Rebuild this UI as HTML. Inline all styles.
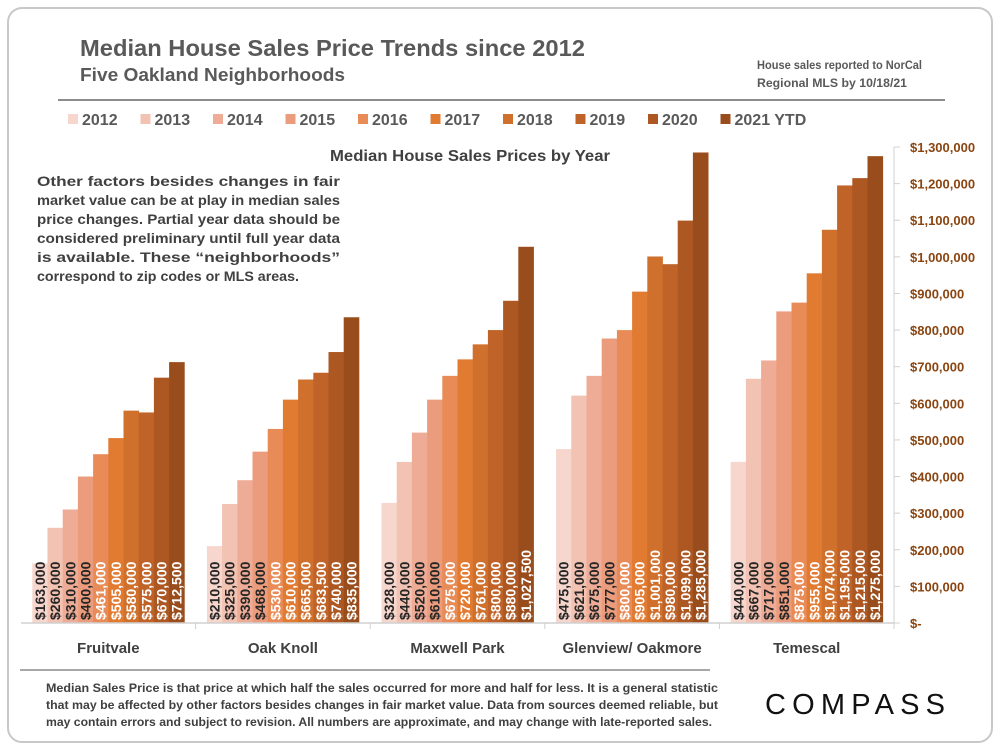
<!DOCTYPE html>
<html><head><meta charset="utf-8"><style>
body{margin:0;background:#fff;}
svg text{font-family:"Liberation Sans",sans-serif;font-weight:bold;}
</style></head><body>
<svg id="chart" width="1000" height="750" xmlns="http://www.w3.org/2000/svg">
<rect x="8" y="8" width="984" height="734" rx="14" fill="#fff" stroke="#c8c8c8" stroke-width="2"/>
<text x="80" y="56" font-size="23" fill="#595959" textLength="505" lengthAdjust="spacingAndGlyphs">Median House Sales Price Trends since 2012</text>
<text x="80" y="81" font-size="18" fill="#595959" textLength="265" lengthAdjust="spacingAndGlyphs">Five Oakland Neighborhoods</text>
<text font-size="12" fill="#595959"><tspan x="757" y="69" textLength="165" lengthAdjust="spacingAndGlyphs">House sales reported to NorCal</tspan><tspan x="757" y="87" textLength="150" lengthAdjust="spacingAndGlyphs">Regional MLS by 10/18/21</tspan></text>
<line x1="58" y1="100" x2="945" y2="100" stroke="#8c8c8c" stroke-width="2"/>
<g id="legend"></g>
<text x="470" y="161" font-size="16" fill="#404040" text-anchor="middle" textLength="280" lengthAdjust="spacingAndGlyphs">Median House Sales Prices by Year</text>
<g font-size="14" fill="#404040">
<text x="37" y="186" textLength="303" lengthAdjust="spacingAndGlyphs">Other factors besides changes in fair</text>
<text x="37" y="205" textLength="303" lengthAdjust="spacingAndGlyphs">market value can be at play in median sales</text>
<text x="37" y="224" textLength="303" lengthAdjust="spacingAndGlyphs">price changes. Partial year data should be</text>
<text x="37" y="243" textLength="303" lengthAdjust="spacingAndGlyphs">considered preliminary until full year data</text>
<text x="37" y="262" textLength="303" lengthAdjust="spacingAndGlyphs">is available. These “neighborhoods”</text>
<text x="37" y="281" textLength="262" lengthAdjust="spacingAndGlyphs">correspond to zip codes or MLS areas.</text>
</g>
<g id="plot"></g>
<line x1="20" y1="670" x2="710" y2="670" stroke="#8c8c8c" stroke-width="1.5"/>
<g font-size="12" fill="#404040">
<text x="46" y="692" textLength="672" lengthAdjust="spacingAndGlyphs">Median Sales Price is that price at which half the sales occurred for more and half for less. It is a general statistic</text>
<text x="46" y="709" textLength="672" lengthAdjust="spacingAndGlyphs">that may be affected by other factors besides changes in fair market value. Data from sources deemed reliable, but</text>
<text x="46" y="726" textLength="666" lengthAdjust="spacingAndGlyphs">may contain errors and subject to revision.  All numbers are approximate, and may change with late-reported sales.</text>
</g>
<text x="765" y="714" font-size="29" fill="#111" style="font-weight:normal" textLength="180" lengthAdjust="spacing">COMPASS</text>
</svg>
<script>
const categories=["Fruitvale","Oak Knoll","Maxwell Park","Glenview/ Oakmore","Temescal"];
const years=["2012","2013","2014","2015","2016","2017","2018","2019","2020","2021 YTD"];
const fruitvale=[163000,260000,310000,400000,461000,505000,580000,575000,670000,712500];
const oakKnoll=[210000,325000,390000,468000,530000,610000,665000,683500,740000,835000];
const maxwellPark=[328000,440000,520000,610000,675000,720000,761000,800000,880000,1027500];
const glenview=[475000,621000,675000,777000,800000,905000,1001000,980000,1099000,1285000];
const temescal=[440000,667000,717000,851000,875000,955000,1074000,1195000,1215000,1275000];
const yTicks=[0,100000,200000,300000,400000,500000,600000,700000,800000,900000,1000000,1100000,1200000,1300000];
const series=[fruitvale,oakKnoll,maxwellPark,glenview,temescal];
const colors=["#f6d6cd","#f2c2b2","#eeac96","#eb9c7d","#e88b57","#e27b32","#d0702d","#c06328","#ad5722","#9a4d1c"];
const NS="http://www.w3.org/2000/svg";
const X0=21,X1=894,Y0=623,Y1=147,YMAX=1300000;
const y=v=>Y0-(v/YMAX)*(Y0-Y1);
const cw=(X1-X0)/categories.length;
const bw=15.2,padL=(cw-bw*years.length)/2;
const xb=(c,s)=>X0+c*cw+padL+s*bw;
function mk(tag,attrs,parent){const e=document.createElementNS(NS,tag);for(const k in attrs)e.setAttribute(k,attrs[k]);parent.appendChild(e);return e;}
const plot=document.getElementById('plot');
const fmt=v=>"$"+v.toLocaleString('en-US');
series.forEach((vals,c)=>{vals.forEach((v,s)=>{
 const r=mk('rect',{x:xb(c,s),y:y(v),width:bw+0.4,height:Y0-y(v),fill:colors[s]},plot);
 
 
 const tx=xb(c,s)+bw/2+5,ty=620;
 const t=mk('text',{x:tx,y:ty,transform:`rotate(-90 ${tx} ${ty})`,'font-size':14,fill:s>=4?'#fff':'#262626'},plot);
 
 
 t.textContent=fmt(v);
});
 const lx=X0+c*cw+cw/2;
 const cl=mk('text',{x:lx,y:653,'font-size':15,fill:'#404040','text-anchor':'middle'},plot);
 
 
 cl.textContent=categories[c];
 const tk=mk('line',{x1:X0+(c+1)*cw,y1:Y0,x2:X0+(c+1)*cw,y2:Y0+6,stroke:'#d0d0d0'},plot);
 
 
});
const xa=mk('line',{x1:X0,y1:Y0,x2:X1,y2:Y0,stroke:'#d0d0d0','stroke-width':1.5},plot);


const ya=mk('line',{x1:X1,y1:Y1,x2:X1,y2:Y0,stroke:'#d0d0d0'},plot);


yTicks.forEach(v=>{
 mk('line',{x1:X1,y1:y(v),x2:X1+6,y2:y(v),stroke:'#d0d0d0'},plot);
 const t=mk('text',{x:910,y:y(v)+5,'font-size':13,fill:'#8a4511'},plot);
 
 
 t.textContent=v===0?"$-":fmt(v);
});
const lg=document.getElementById('legend');
years.forEach((yr,i)=>{
 const bx=68+i*72.5;
 const g=mk('g',{},lg);
 
 
 mk('rect',{x:bx,y:114,width:10,height:10,fill:colors[i]},g);
 const t=mk('text',{x:bx+14,y:125,'font-size':16,fill:'#595959'},g);
 t.textContent=yr;
});
</script>
</body></html>
